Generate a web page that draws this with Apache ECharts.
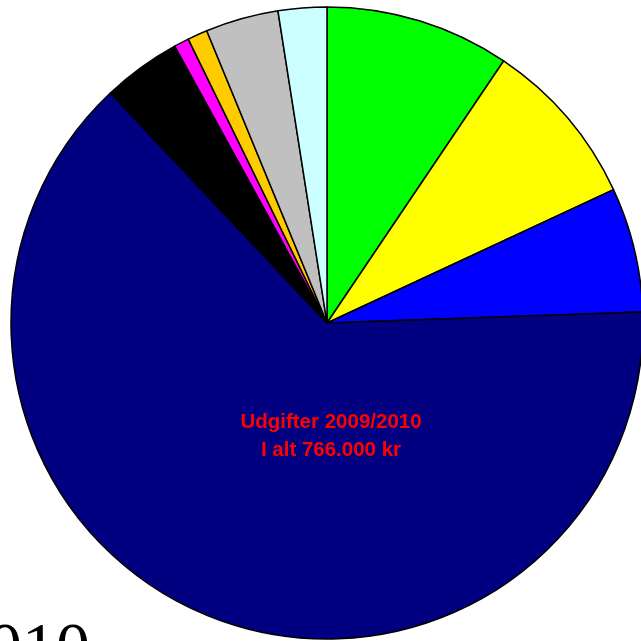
<!DOCTYPE html>
<html>
<head>
<meta charset="utf-8">
<script src="https://cdn.jsdelivr.net/npm/echarts@6/dist/echarts.min.js"></script>
<style>
  html, body { margin: 0; padding: 0; background: #ffffff; }
  #chart { width: 641px; height: 641px; }
</style>
</head>
<body>
<div id="chart"></div>
<script>
// Udgifter 2009/2010, beløb i 1.000 kr (i alt 766)
const posts = ['Post 1', 'Post 2', 'Post 3', 'Post 4', 'Post 5', 'Post 6', 'Post 7', 'Post 8', 'Post 9'];
const amounts = [72.3, 66.1, 48.8, 486.7, 30.8, 5.9, 7.8, 28.6, 19.0];
const sliceColors = ['#00FF00', '#FFFF00', '#0000FF', '#000080', '#000000', '#FF00FF', '#FFCC00', '#C0C0C0', '#CCFFFF'];

const total = amounts.reduce((a, b) => a + b, 0);
const totalText = 'I alt ' + Math.round(total).toLocaleString('da-DK') + '.000 kr';

const chart = echarts.init(document.getElementById('chart'), null, { renderer: 'canvas' });

chart.setOption({
  animation: false,
  backgroundColor: '#ffffff',
  series: [{
    type: 'pie',
    center: [327, 323],
    radius: [0, 316],
    startAngle: 90,
    clockwise: true,
    avoidLabelOverlap: false,
    label: { show: false },
    labelLine: { show: false },
    emphasis: { disabled: true },
    itemStyle: { borderColor: '#000000', borderWidth: 1.5 },
    data: posts.map((p, i) => ({ name: p, value: amounts[i], itemStyle: { color: sliceColors[i] } }))
  }],
  graphic: [
    {
      type: 'text',
      x: 331, y: 408,
      style: {
        text: 'Udgifter 2009/2010\n' + totalText,
        fill: '#FF0000',
        font: 'bold 20.5px "Liberation Sans", Arial, sans-serif',
        lineHeight: 28,
        align: 'center'
      },
      z: 10
    },
    {
      type: 'text',
      x: -46, y: 617,
      style: {
        text: '2010',
        fill: '#000000',
        font: '68px "Liberation Serif", "Times New Roman", serif'
      },
      z: 10
    }
  ]
});
</script>
</body>
</html>
